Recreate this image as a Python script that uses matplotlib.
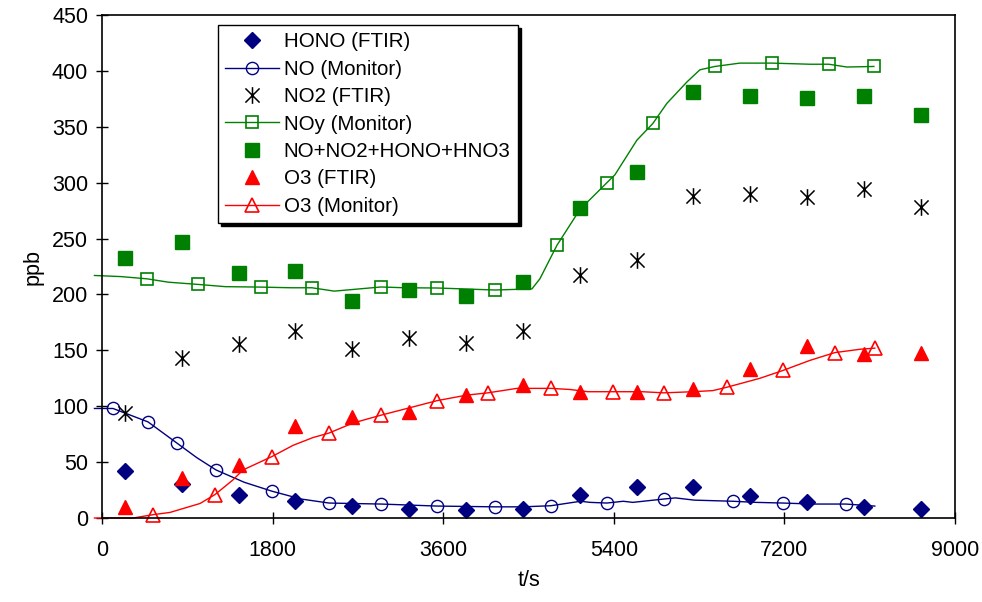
import matplotlib
matplotlib.use("Agg")
import matplotlib.pyplot as plt
from matplotlib.path import Path
import numpy as np

plt.rcParams['font.family'] = ['Liberation Sans', 'DejaVu Sans']

# FTIR samples
t_ftir = [240, 840, 1440, 2040, 2640, 3240, 3840, 4440, 5040, 5640, 6240, 6840, 7440, 8040, 8640]
hono_ftir = [42, 30, 21, 15, 11, 8, 7, 8, 21, 28, 28, 20, 14, 10, 8]
no2_ftir = [94, 143, 156, 167, 151, 161, 157, 167, 217, 231, 288, 290, 287, 294, 278]
noy_sum = [233, 247, 219, 221, 194, 204, 199, 211, 277, 310, 381, 378, 376, 378, 361]
o3_ftir = [10, 36, 47, 82, 90, 95, 110, 119, 113, 113, 115, 133, 154, 147, 148]

# NO monitor trace and the times that carry a marker
no_t = [-80, 116, 485, 791, 1000, 1203, 1500, 1793, 2100, 2394, 2943, 3534, 4145, 4440, 4736,
        5050, 5150, 5327, 5500, 5600, 5928, 6050, 6250, 6656, 6900, 7184, 7500, 7848, 8154]
no_v = [98, 98, 86, 67, 54, 43, 32, 24, 17, 13.4, 12.5, 10.7, 10, 10, 11,
        15, 14, 13.4, 15, 14, 17, 18, 16, 15, 14, 13.4, 12.5, 12.5, 10.7]
no_marks = [116, 485, 791, 1203, 1793, 2394, 2943, 3534, 4145, 4736, 5327, 5928, 6656, 7184, 7848]

# NOy monitor trace
noy_t = [-80, 200, 475, 700, 1013, 1300, 1677, 2000, 2215, 2450, 2943, 3200, 3534, 4145, 4536,
         4620, 4800, 5042, 5327, 5411, 5643, 5812, 5960, 6170, 6308, 6466, 6730, 7068, 7468,
         7669, 7859, 8144]
noy_v = [217, 216, 214, 211, 209, 207, 206.6, 206, 206, 203, 206.7, 206, 205.8, 204, 205,
         214, 244, 276, 300, 307, 338, 353, 371, 390, 401, 404, 407, 407, 406,
         406, 403.5, 404]
noy_marks = [475, 1013, 1677, 2215, 2943, 3534, 4145, 4800, 5327, 5812, 6466, 7068, 7669, 8144]

# O3 monitor trace
o3m_t = [-80, 327, 538, 717, 1034, 1192, 1380, 1487, 1793, 2015, 2226, 2394, 2648, 2943, 3217,
         3534, 3850, 4072, 4378, 4736, 4937, 5127, 5390, 5700, 5928, 6234, 6445, 6593, 6941,
         7184, 7468, 7732, 8000, 8154]
o3m_v = [0, 0, 3, 5, 13, 21, 34, 43, 55, 65, 72, 76, 85, 92, 98,
         105, 110, 112, 116, 116, 115, 113, 113, 113, 112, 113, 114, 117, 125,
         132, 141, 148, 151, 152]
o3m_marks = [538, 1192, 1793, 2394, 2943, 3534, 4072, 4736, 5390, 5928, 6593, 7184, 7732, 8154]

navy = '#000080'
green = '#008000'
red = '#ff0000'

# excel style star: vertical bar plus an X
star = Path([(0, -1), (0, 1), (-0.85, -0.85), (0.85, 0.85), (-0.85, 0.85), (0.85, -0.85)],
            [Path.MOVETO, Path.LINETO] * 3)

fig = plt.figure(figsize=(9.82, 6.02), dpi=100)
ax = fig.add_axes([0.1039, 0.1395, 0.8686, 0.8355])

ax.plot(t_ftir, hono_ftir, ls='none', marker='D', ms=8, color=navy, label='HONO (FTIR)')
ax.plot(no_t, no_v, color=navy, lw=1.0, marker='o', ms=8.8, mfc='none', mew=1.0,
        markevery=list(np.isin(no_t, no_marks)), clip_on=False, label='NO (Monitor)')
ax.plot(t_ftir, no2_ftir, ls='none', marker=star, ms=12, mew=1.1, color='black',
        label='NO2 (FTIR)')
ax.plot(noy_t, noy_v, color=green, lw=1.0, marker='s', ms=9, mfc='none', mew=1.2,
        markevery=list(np.isin(noy_t, noy_marks)), clip_on=False, label='NOy (Monitor)')
ax.plot(t_ftir, noy_sum, ls='none', marker='s', ms=10, color=green, label='NO+NO2+HONO+HNO3')
ax.plot(t_ftir, o3_ftir, ls='none', marker='^', ms=10, color=red, label='O3 (FTIR)')
ax.plot(o3m_t, o3m_v, color=red, lw=1.0, marker='^', ms=9.5, mfc='none', mew=1.2,
        markevery=list(np.isin(o3m_t, o3m_marks)), clip_on=False, label='O3 (Monitor)')

ax.set_xlim(0, 9000)
ax.set_ylim(0, 450)
ax.set_xticks(np.arange(0, 9001, 1800))
ax.set_yticks(np.arange(0, 451, 50))
ax.tick_params(direction='inout', length=8, width=1, labelsize=15.5, pad=6)
ax.tick_params(axis='x', pad=12)
for s in ax.spines.values():
    s.set_linewidth(1.2)
ax.set_xlabel('t/s', fontsize=15.5, labelpad=6)
ax.set_ylabel('ppb', fontsize=15.5, labelpad=6)

leg = ax.legend(loc='upper left', bbox_to_anchor=(0.136, 0.98), borderaxespad=0,
                fontsize=14.8, frameon=True, fancybox=False, edgecolor='black',
                shadow={'color': 'black', 'alpha': 1}, handlelength=2.6,
                handletextpad=0.25, labelspacing=0.41, borderpad=0.35)
leg.get_frame().set_linewidth(1.0)

fig.savefig('out.png', dpi=100)
